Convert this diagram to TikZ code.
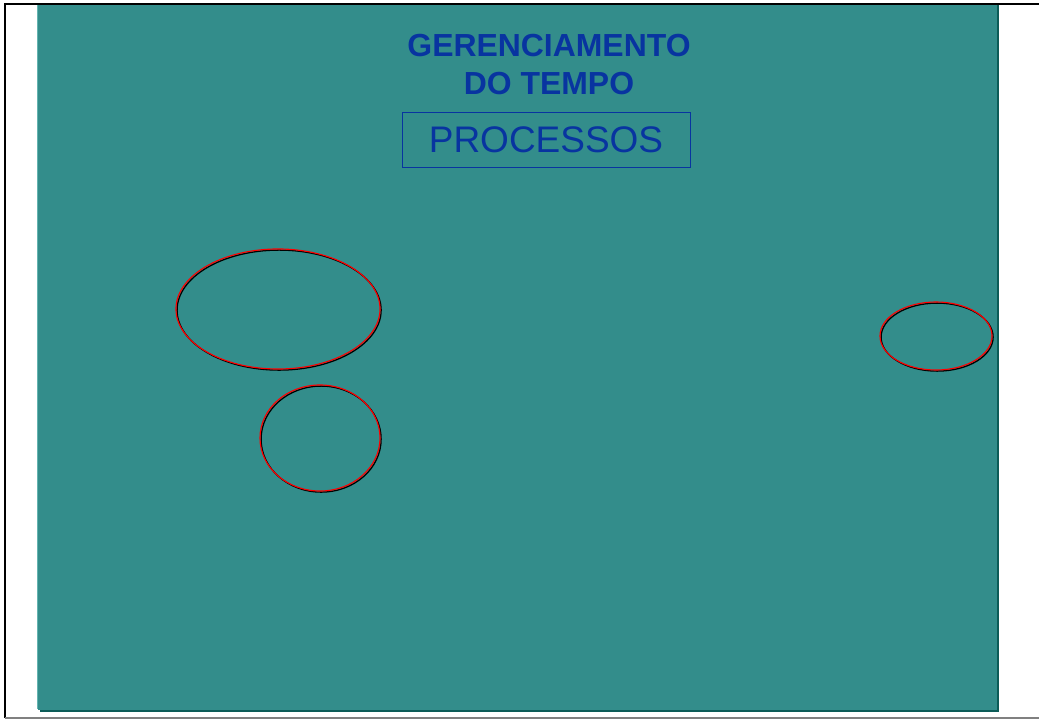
\documentclass[tikz,border=0pt]{standalone}
\usepackage{fontspec}
\setmainfont{Liberation Sans}
\usepackage{xcolor}
\usetikzlibrary{shapes,positioning,calc}

\definecolor{slide}{RGB}{51,141,139}
\definecolor{slidelight}{RGB}{100,180,176}
\definecolor{slidedark}{RGB}{12,92,88}
\definecolor{titleblue}{RGB}{8,52,160}

\tikzset{
    ring/.style={draw=red, line width=0.8pt, ellipse, inner sep=0pt,
        preaction={draw=black, line width=0.9pt, transform canvas={shift={(0.8pt,-0.8pt)}}}},
}

\begin{document}
\begin{tikzpicture}[x=0.025cm, y=-0.025cm]
    \useasboundingbox (0,0) rectangle (1039,720);
    % page frame
    \draw [black, line width=1.6pt] (1039,4) -- (5,4) -- (5,718);
    \draw [gray, line width=1.2pt] (5,718) -- (1039,718);
    % slide
    \fill [slide] (38,5) rectangle (997,710);
    \draw [slidelight, line width=0.8pt] (37.5,5) -- (37.5,709);
    \draw [slidedark, line width=1.4pt] (998,5) -- (998,711) -- (40,711);

    \node [text=titleblue, font=\bfseries\fontsize{22.7}{27}\selectfont, align=center] (title) at (549,65) {GERENCIAMENTO\\DO TEMPO};
    \node [draw=titleblue, line width=0.6pt, text=titleblue, font=\fontsize{26.3}{30}\selectfont,
        minimum width=7.2cm, minimum height=1.375cm] (procs) at (546,139.5) {PROCESSOS};

    \node [ring, minimum width=5.1cm, minimum height=3cm] (big) at (278,309) {};
    \node [ring, minimum width=3cm, minimum height=2.65cm] (small) at (320,438) {};
    \node [ring, minimum width=2.8cm, minimum height=1.7cm] (right) at (936,336) {};
\end{tikzpicture}
\end{document}
